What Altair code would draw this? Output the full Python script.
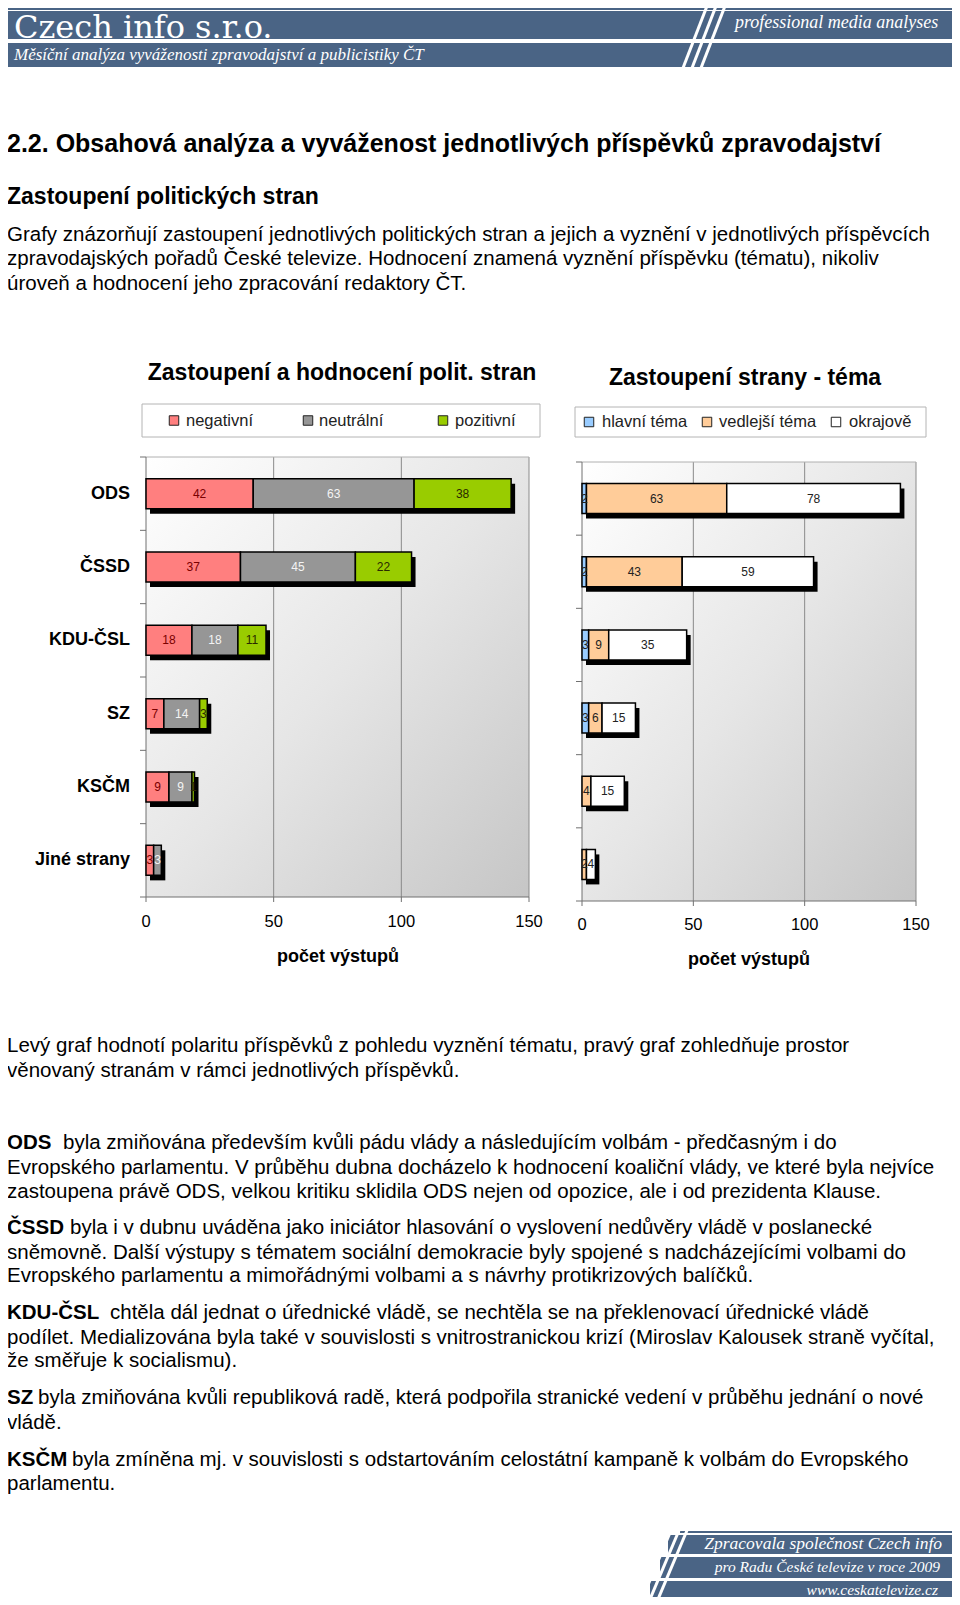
import altair as alt
import pandas as pd

# ---------------- data ----------------
parties = ["ODS", "ČSSD", "KDU-ČSL", "SZ", "KSČM", "Jiné strany"]

polarity_cats = ["negativní", "neutrální", "pozitivní"]
negativni = [42, 37, 18, 7, 9, 3]
neutralni = [63, 45, 18, 14, 9, 3]
pozitivni = [38, 22, 11, 3, 1, 0]

theme_cats = ["hlavní téma", "vedlejší téma", "okrajově"]
hlavni = [2, 2, 3, 3, 0, 0]
vedlejsi = [63, 43, 9, 6, 4, 2]
okrajove = [78, 59, 35, 15, 15, 4]

x_ticks = [0, 50, 100, 150]

# ---------------- layout / style ----------------
W, H = 944, 1589
OFF = 8  # page margin
SANS = "Liberation Sans"
SERIF = "Liberation Serif"
BLUE = "#4A6485"

one = alt.Data(values=[{}])


def P(v):
    return v - OFF


def rect(x, x2, y, y2, fill, **kw):
    return alt.Chart(one).mark_rect(fill=fill, **kw).encode(
        x=alt.value(P(x)), x2=alt.value(P(x2)), y=alt.value(P(y)), y2=alt.value(P(y2)))


def rule(x, x2, y, y2, color, width=1.0):
    return alt.Chart(one).mark_rule(color=color, strokeWidth=width).encode(
        x=alt.value(P(x)), x2=alt.value(P(x2)), y=alt.value(P(y)), y2=alt.value(P(y2)))


def label(txt, x, y, size, bold=False, italic=False, align="left", color="black", font=SANS,
          baseline="middle"):
    return alt.Chart(one).mark_text(
        text=txt, fontSize=size, fontWeight="bold" if bold else "normal",
        fontStyle="italic" if italic else "normal", align=align, baseline=baseline,
        color=color, font=font).encode(x=alt.value(P(x)), y=alt.value(P(y)))


def stack_table(cats, series):
    rows = []
    for i, p in enumerate(parties):
        start = 0
        for c, s in zip(cats, series):
            v = s[i]
            rows.append(dict(party=p, cat=c, value=v, start=start, end=start + v, mid=start + v / 2))
            start += v
    return pd.DataFrame(rows)


def panel(cats, series, colors, label_colors, px0, px1, py0, py1, tick_y, axis_title_xy,
          title, title_xy, box, leg_sq, leg_tx, party_labels):
    XS = alt.Scale(domain=[0, 150], range=[P(px0), P(px1)], nice=False, zero=False)
    YS = alt.Scale(domain=parties, range=[P(py0), P(py1)], paddingInner=0.59, paddingOuter=0.295)
    YL = alt.Scale(domain=[0, len(parties)], range=[P(py0), P(py1)], nice=False, zero=False)
    CS = alt.Scale(domain=cats, range=colors)
    TS = alt.Scale(domain=cats, range=label_colors)

    df = stack_table(cats, series)
    tot = df.groupby("party", sort=False)["end"].max().reset_index().rename(columns={"end": "total"})
    tot["zero"] = 0
    nz = df[df["value"] > 0]
    ticks = pd.DataFrame({"t": x_ticks})
    bounds = pd.DataFrame({"i": list(range(len(parties) + 1))})

    grad = alt.LinearGradient(
        gradient="linear",
        stops=[alt.GradientStop(color="#ffffff", offset=0),
               alt.GradientStop(color="#e6e6e6", offset=0.5),
               alt.GradientStop(color="#c6c6c6", offset=1)],
        x1=0, y1=0, x2=1, y2=1)

    layers = []
    layers.append(alt.Chart(one).mark_rect(fill=grad).encode(
        x=alt.XDatum(0, scale=XS, axis=None), x2=alt.X2Datum(150),
        y=alt.value(P(py0)), y2=alt.value(P(py1))))
    # grid
    layers.append(alt.Chart(ticks[ticks.t > 0]).mark_rule(color="#8a8a8a", strokeWidth=1).encode(
        x=alt.X("t:Q", scale=XS, axis=None), y=alt.value(P(py0)), y2=alt.value(P(py1))))
    # top border
    layers.append(alt.Chart(one).mark_rule(color="#b0b0b0", strokeWidth=1).encode(
        x=alt.XDatum(0, scale=XS, axis=None), x2=alt.X2Datum(150), y=alt.value(P(py0))))
    # axes lines
    layers.append(alt.Chart(one).mark_rule(color="#707070", strokeWidth=1).encode(
        x=alt.XDatum(0, scale=XS, axis=None), y=alt.value(P(py0)), y2=alt.value(P(py1))))
    layers.append(alt.Chart(one).mark_rule(color="#707070", strokeWidth=1).encode(
        x=alt.XDatum(0, scale=XS, axis=None), x2=alt.X2Datum(150), y=alt.value(P(py1))))
    layers.append(alt.Chart(ticks).mark_rule(color="#707070", strokeWidth=1).encode(
        x=alt.X("t:Q", scale=XS, axis=None), y=alt.value(P(py1)), y2=alt.value(P(py1) + 5)))
    layers.append(alt.Chart(bounds).mark_rule(color="#707070", strokeWidth=1).encode(
        y=alt.Y("i:Q", scale=YL, axis=None), x=alt.value(P(px0) - 6), x2=alt.value(P(px0))))
    # shadows
    layers.append(alt.Chart(tot).mark_bar(color="black", xOffset=4, x2Offset=4, yOffset=5, y2Offset=5).encode(
        x=alt.X("zero:Q", scale=XS, axis=None), x2="total:Q",
        y=alt.Y("party:N", scale=YS, axis=None)))
    # bars
    layers.append(alt.Chart(nz).mark_bar(stroke="black", strokeWidth=1.5).encode(
        x=alt.X("start:Q", scale=XS, axis=None), x2="end:Q",
        y=alt.Y("party:N", scale=YS, axis=None),
        color=alt.Color("cat:N", scale=CS, legend=None)))
    # value labels
    layers.append(alt.Chart(nz).mark_text(fontSize=12, font=SANS).encode(
        x=alt.X("mid:Q", scale=XS, axis=None),
        y=alt.Y("party:N", scale=YS, axis=None),
        text="value:Q",
        color=alt.Color("cat:N", scale=TS, legend=None)))
    # category labels
    if party_labels:
        layers.append(alt.Chart(pd.DataFrame({"party": parties})).mark_text(
            align="right", fontWeight="bold", fontSize=18, font=SANS, color="black").encode(
            x=alt.value(P(px0) - 16), y=alt.Y("party:N", scale=YS, axis=None), text="party:N"))
    # x tick labels
    layers.append(alt.Chart(ticks).mark_text(fontSize=16.5, font=SANS, color="black").encode(
        x=alt.X("t:Q", scale=XS, axis=None), y=alt.value(P(tick_y)), text="t:Q"))
    layers.append(label("počet výstupů", axis_title_xy[0], axis_title_xy[1], 18, bold=True, align="center"))
    # title
    layers.append(label(title, title_xy[0], title_xy[1], 23, bold=True, align="center"))
    # legend
    layers.append(alt.Chart(one).mark_rect(fill="white", stroke="#b4b4b4", strokeWidth=1).encode(
        x=alt.value(P(box[0])), x2=alt.value(P(box[1])), y=alt.value(P(box[2])), y2=alt.value(P(box[3]))))
    leg = pd.DataFrame({"cat": cats, "sx": [P(v) for v in leg_sq], "tx": [P(v) for v in leg_tx]})
    ly = P((box[2] + box[3]) / 2)
    layers.append(alt.Chart(leg).mark_square(size=90, stroke="#222222", strokeWidth=1, filled=True, opacity=1).encode(
        x=alt.X("sx:Q", scale=None), y=alt.value(ly),
        color=alt.Color("cat:N", scale=CS, legend=None)))
    layers.append(alt.Chart(leg).mark_text(align="left", fontSize=16.5, font=SANS, color="#222222").encode(
        x=alt.X("tx:Q", scale=None), y=alt.value(ly), text="cat:N"))
    return layers


layers = []

# ---------------- header ----------------
layers.append(rect(0, 960, 8, 10, BLUE))
layers.append(rect(0, 960, 11, 39, BLUE))
layers.append(rect(0, 960, 43, 67, BLUE))
for k in range(3):
    layers.append(rule(683 + 9 * k, 707 + 9 * k, 68, 6, "white", 3))
layers.append(label("Czech info s.r.o.", 14, 38, 32, color="white", font="DejaVu Serif", baseline="alphabetic"))
layers.append(label("professional media analyses", 735, 23, 18, italic=True, color="white", font=SERIF))
layers.append(label("Měsíční analýza vyváženosti zpravodajství a publicistiky ČT", 14, 55, 17,
                    italic=True, color="white", font=SERIF))

# ---------------- headings & intro ----------------
layers.append(label("2.2. Obsahová analýza a vyváženost jednotlivých příspěvků zpravodajství", 7, 144, 25, bold=True))
layers.append(label("Zastoupení politických stran", 7, 196.5, 23, bold=True))

BODY = 20.5
TX = 7
plain_lines = [
    (234.5, "Grafy znázorňují zastoupení jednotlivých politických stran a jejich a vyznění v jednotlivých příspěvcích"),
    (259, "zpravodajských pořadů České televize. Hodnocení znamená vyznění příspěvku (tématu), nikoliv"),
    (283.5, "úroveň a hodnocení jeho zpracování redaktory ČT."),
    (1046, "Levý graf hodnotí polaritu příspěvků z pohledu vyznění tématu, pravý graf zohledňuje prostor"),
    (1070.5, "věnovaný stranám v rámci jednotlivých příspěvků."),
    (1168, "Evropského parlamentu. V průběhu dubna docházelo k hodnocení koaliční vlády, ve které byla nejvíce"),
    (1191.5, "zastoupena právě ODS, velkou kritiku sklidila ODS nejen od opozice, ale i od prezidenta Klause."),
    (1252.5, "sněmovně. Další výstupy s tématem sociální demokracie byly spojené s nadcházejícími volbami do"),
    (1276, "Evropského parlamentu a mimořádnými volbami a s návrhy protikrizových balíčků."),
    (1337.5, "podílet. Medializována byla také v souvislosti s vnitrostranickou krizí (Miroslav Kalousek straně vyčítal,"),
    (1361, "že směřuje k socialismu)."),
    (1422.5, "vládě."),
    (1484, "parlamentu."),
]
for y, t in plain_lines:
    layers.append(label(t, TX, y, BODY))

lead_lines = [
    (1143, "ODS", 63, "byla zmiňována především kvůli pádu vlády a následujícím volbám - předčasným i do"),
    (1228, "ČSSD", 70, "byla i v dubnu uváděna jako iniciátor hlasování o vyslovení nedůvěry vládě v poslanecké"),
    (1313, "KDU-ČSL", 110, "chtěla dál jednat o úřednické vládě, se nechtěla se na překlenovací úřednické vládě"),
    (1398, "SZ", 38, "byla zmiňována kvůli republiková radě, která podpořila stranické vedení v průběhu jednání o nové"),
    (1459.5, "KSČM", 72, "byla zmíněna mj. v souvislosti s odstartováním celostátní kampaně k volbám do Evropského"),
]
for y, b, x2, t in lead_lines:
    layers.append(label(b, TX, y, BODY, bold=True))
    layers.append(label(t, x2, y, BODY))

# ---------------- charts ----------------
layers += panel(polarity_cats, [negativni, neutralni, pozitivni],
                ["#FF7F7F", "#969696", "#99CC00"], ["#7a0000", "#f4f4f4", "#2a2a00"],
                146, 529, 457, 897, 922, (338, 957),
                "Zastoupení a hodnocení polit. stran", (342, 373),
                (142, 540, 404, 437), [174, 308, 443], [186, 319, 455], True)
layers += panel(theme_cats, [hlavni, vedlejsi, okrajove],
                ["#99CCFF", "#FFCC99", "#FFFFFF"], ["#222222", "#222222", "#222222"],
                582, 916, 462, 901, 925, (749, 960),
                "Zastoupení strany - téma", (745, 378),
                (575, 926, 407, 437), [589, 707, 836], [602, 719, 849], False)

# ---------------- footer ----------------
layers.append(rect(680, 960, 1531, 1533, BLUE))
layers.append(rect(668, 960, 1535, 1554, BLUE))
layers.append(rect(660, 960, 1557, 1578, BLUE))
layers.append(rect(650, 960, 1581, 1600, BLUE))
for k in range(3):
    layers.append(rule(640 + 8 * k, 672 + 8 * k, 1604, 1528, "white", 3))
layers.append(label("Zpracovala společnost Czech info", 942, 1544, 17.5, italic=True, align="right",
                    color="white", font=SERIF))
layers.append(label("pro Radu České televize v roce 2009", 940, 1567, 15.5, italic=True, align="right",
                    color="white", font=SERIF))
layers.append(label("www.ceskatelevize.cz", 938, 1590, 15.5, italic=True, align="right",
                    color="white", font=SERIF))

chart = alt.layer(*layers).resolve_scale(
    x="independent", y="independent", color="independent"
).properties(
    width=W, height=H, padding=0, autosize=alt.AutoSizeParams(type="none"),
    background="white"
).configure_view(stroke=None)

chart.save("out.html", embed_options={"renderer": "svg", "actions": False})
